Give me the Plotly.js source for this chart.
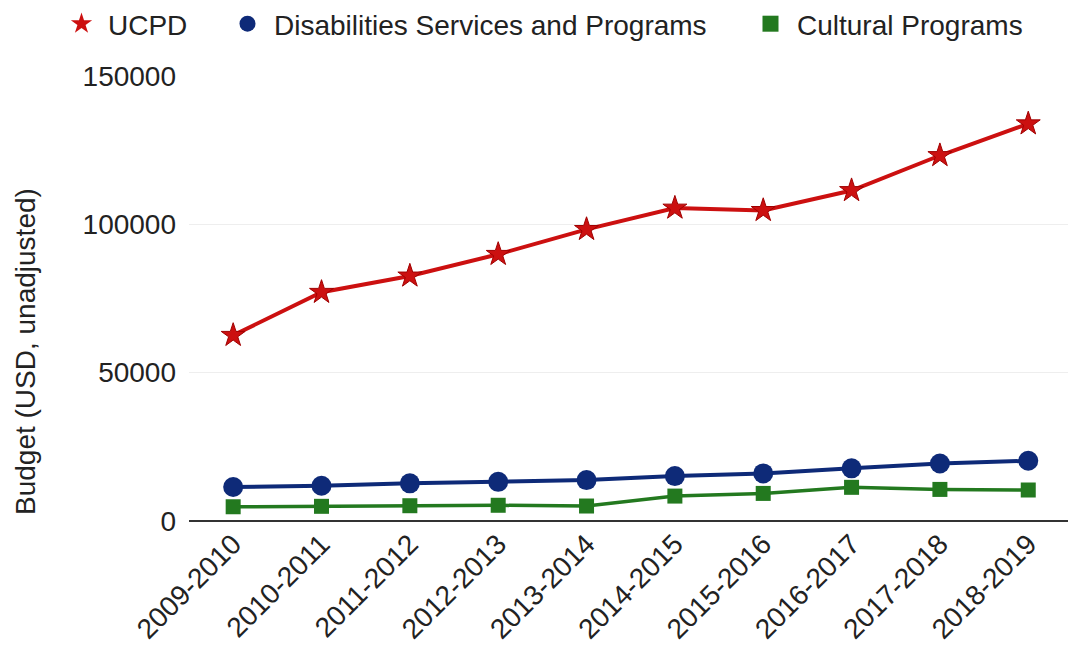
<!DOCTYPE html>
<html>
<head>
<meta charset="utf-8">
<script src="https://cdn.plot.ly/plotly-3.0.1.min.js"></script>
<style>html,body{margin:0;padding:0;background:#fff;}#chart{width:1068px;height:650px;}</style>
</head>
<body>
<div id="chart"></div>
<script>
const years = ["2009-2010","2010-2011","2011-2012","2012-2013","2013-2014","2014-2015","2015-2016","2016-2017","2017-2018","2018-2019"];
const ucpd = [62600, 77100, 82600, 89900, 98300, 105500, 104700, 111400, 123200, 133900];
const disabilities = [11450, 11900, 12700, 13200, 13800, 15150, 16050, 17750, 19400, 20300];
const cultural = [4800, 4950, 5150, 5300, 5050, 8400, 9300, 11350, 10650, 10450];
const seriesNames = ["UCPD", "Disabilities Services and Programs", "Cultural Programs"];
const yTicks = [0, 50000, 100000, 150000];
const yTitle = "Budget (USD, unadjusted)";

const RED = "#cc1010", BLUE = "#0e2a78", GREEN = "#23791f";
const FONT = "Liberation Sans, Arial, sans-serif";

const traces = [
  {x: years, y: ucpd, type: "scatter", mode: "lines+markers", showlegend: false,
   line: {color: RED, width: 4}, marker: {symbol: "star", size: 18, color: RED, line: {color: "#a00000", width: 1}}},
  {x: years, y: disabilities, type: "scatter", mode: "lines+markers", showlegend: false,
   line: {color: BLUE, width: 4}, marker: {symbol: "circle", size: 20, color: BLUE}},
  {x: years, y: cultural, type: "scatter", mode: "lines+markers", showlegend: false,
   line: {color: GREEN, width: 3.5}, marker: {symbol: "square", size: 15, color: GREEN}},
  {x: [null], y: [null], type: "scatter", mode: "markers", name: seriesNames[0], legend: "legend",
   marker: {symbol: "star", size: 16, color: RED}},
  {x: [null], y: [null], type: "scatter", mode: "markers", name: seriesNames[1], legend: "legend2",
   marker: {symbol: "circle", size: 16, color: BLUE}},
  {x: [null], y: [null], type: "scatter", mode: "markers", name: seriesNames[2], legend: "legend3",
   marker: {symbol: "square", size: 16, color: GREEN}}
];

function leg(xpx) {
  return {xref: "container", yref: "container", x: xpx / 1068, y: 1 - 24 / 650,
          xanchor: "left", yanchor: "middle", orientation: "h", itemwidth: 43,
          font: {family: FONT, size: 28, color: "#222"}, bgcolor: "rgba(0,0,0,0)"};
}

const layout = {
  width: 1068, height: 650,
  margin: {l: 189, r: 0, t: 76, b: 129},
  paper_bgcolor: "#fff", plot_bgcolor: "#fff",
  font: {family: FONT, size: 28, color: "#222"},
  xaxis: {type: "category", range: [-0.5, 9.45], tickangle: -45, showgrid: false,
          zeroline: false, showline: false, ticks: "", tickfont: {family: FONT, size: 28, color: "#222"}},
  yaxis: {range: [0, 150000], tickvals: yTicks, ticktext: yTicks.map(String), showgrid: true,
          gridcolor: "#eeeeee", gridwidth: 1, zeroline: true, zerolinecolor: "#333", zerolinewidth: 2.5,
          showline: false, ticks: "", ticklabelstandoff: 12, tickfont: {family: FONT, size: 28, color: "#222"}},
  legend: leg(55), legend2: leg(221), legend3: leg(744),
  annotations: [{text: yTitle, textangle: -90, xref: "paper", yref: "paper",
                 x: (25 - 189) / 879, y: (521 - 352) / 445, xanchor: "center", yanchor: "middle", showarrow: false,
                 font: {family: FONT, size: 28, color: "#222"}}]
};

Plotly.newPlot("chart", traces, layout, {displayModeBar: false, staticPlot: true});
</script>
</body>
</html>
